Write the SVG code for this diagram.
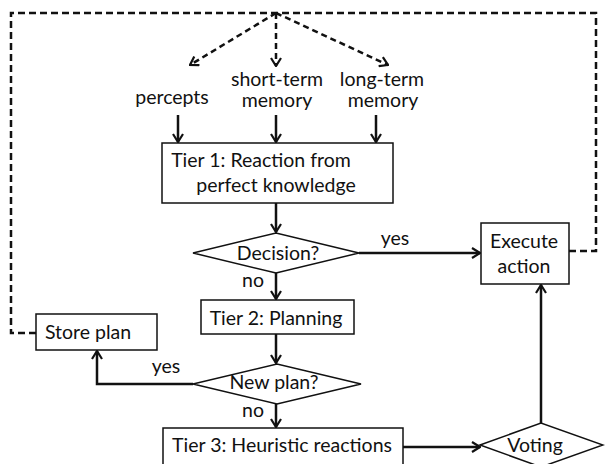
<svg xmlns="http://www.w3.org/2000/svg" width="605" height="464" viewBox="0 0 605 464">
<style>
text { font-family: Lato, "Liberation Sans", sans-serif; font-size: 19.5px; fill: #111; text-anchor: middle; }
.box { fill: #fff; stroke: #111; stroke-width: 1.5; }
.arr { fill: none; stroke: #111; stroke-width: 2.5; marker-end: url(#ah); }
.dash { fill: none; stroke: #111; stroke-width: 2.5; stroke-dasharray: 7 4; }
.darr { fill: none; stroke: #111; stroke-width: 2.5; stroke-dasharray: 6 4; marker-end: url(#ah); }
</style>
<defs>
<marker id="ah" viewBox="0 0 10 12" refX="9" refY="6" markerWidth="10" markerHeight="12" markerUnits="userSpaceOnUse" orient="auto">
<path d="M1,1 L9,6 L1,11" fill="none" stroke="#111" stroke-width="2.2"/>
</marker>
</defs>
<rect width="605" height="464" fill="#fff"/>
<g id="connectors">
<path class="dash" d="M569,251 H596 V13 H11 V333 H36"/>
<path class="darr" d="M276,13 L190,65"/>
<path class="darr" d="M276,13 V66"/>
<path class="darr" d="M276,13 L388,65"/>
<path class="arr" d="M178,115 V142"/>
<path class="arr" d="M276,115 V142"/>
<path class="arr" d="M376,115 V142"/>
<path class="arr" d="M276,203 V232"/>
<path class="arr" d="M359,253 H480"/>
<path class="arr" d="M276,273 V299"/>
<path class="arr" d="M276,334 V363"/>
<path class="arr" d="M193,384 H97 V351"/>
<path class="arr" d="M276,404 V427"/>
<path class="arr" d="M403,447 H480"/>
<path class="arr" d="M541,423 V285"/>
<text x="395" y="245">yes</text>
<text x="253" y="287">no</text>
<text x="166" y="373">yes</text>
<text x="253" y="417">no</text>
</g>
<g id="percepts"><text x="172" y="104">percepts</text></g>
<g id="stm"><text x="277" y="86">short-term</text><text x="277" y="107">memory</text></g>
<g id="ltm"><text x="382" y="86">long-term</text><text x="383" y="107">memory</text></g>
<g id="tier1"><rect class="box" x="162" y="143" width="231" height="60"/><text x="261" y="167">Tier 1: Reaction from</text><text x="276" y="192">perfect knowledge</text></g>
<g id="decision"><polygon class="box" points="193,253 276,233 359,253 276,273"/><text x="278" y="260">Decision?</text></g>
<g id="execute"><rect class="box" x="481" y="223" width="88" height="61"/><text x="524" y="248">Execute</text><text x="524" y="273">action</text></g>
<g id="tier2"><rect class="box" x="201" y="300" width="153" height="34"/><text x="276" y="325">Tier 2: Planning</text></g>
<g id="newplan"><polygon class="box" points="193,384 277,364 361,384 277,404"/><text x="274" y="389">New plan?</text></g>
<g id="store"><rect class="box" x="36" y="314" width="121" height="36"/><text x="88" y="339">Store plan</text></g>
<g id="tier3"><rect class="box" x="163" y="428" width="240" height="45"/><text x="282" y="452">Tier 3: Heuristic reactions</text></g>
<g id="voting"><polygon class="box" points="480,445 541,423 603,445 541,467"/><text x="535" y="452">Voting</text></g>
</svg>
